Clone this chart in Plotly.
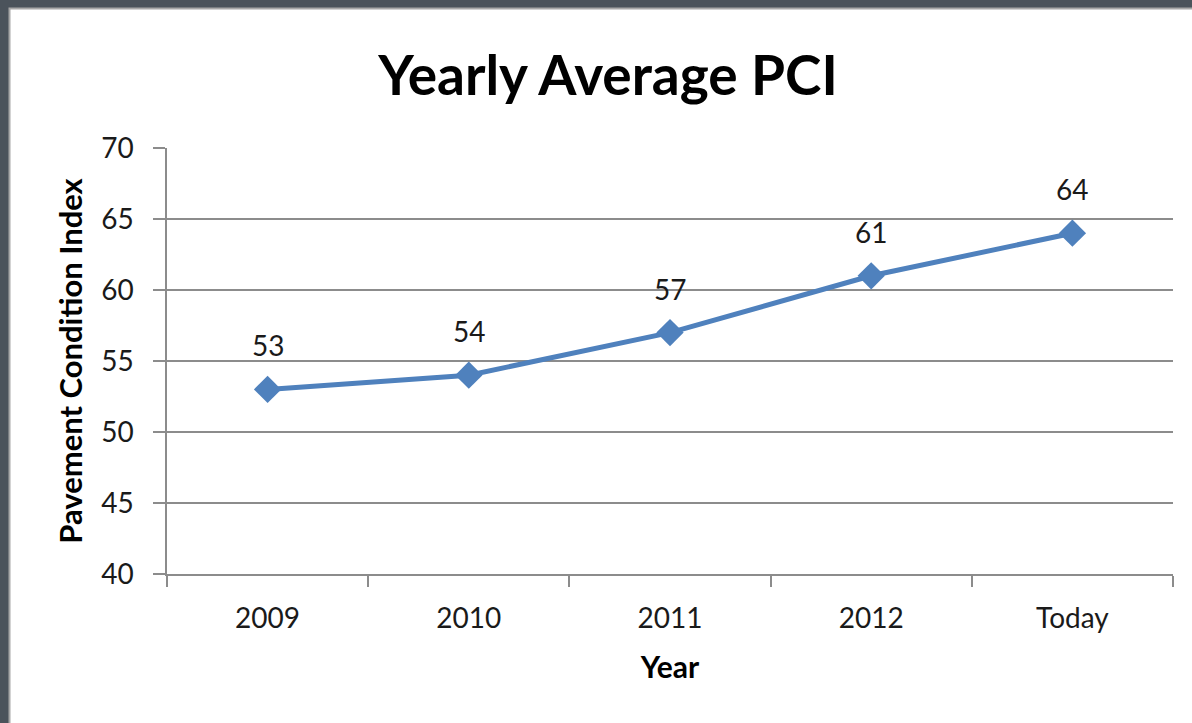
import plotly.graph_objects as go

categories = ["2009", "2010", "2011", "2012", "Today"]
pci_values = [53, 54, 57, 61, 64]
y_ticks = [40, 45, 50, 55, 60, 65, 70]

W, H = 1192, 723
L, R, T, B = 167, 19, 148, 149
pw, ph = W - L - R, H - T - B

def px_to_paper_x(px):
    return (px - L) / pw

def px_to_paper_y(py):
    return (H - B - py) / ph

FONT = "Lato"
BLUE = "#4F81BD"
GRID = "#8c8c8c"
TXT = "#1a1a1a"

fig = go.Figure()
fig.add_trace(go.Scatter(
    x=categories, y=pci_values, mode="lines+markers",
    line=dict(color=BLUE, width=5),
    marker=dict(symbol="diamond", size=21, color=BLUE),
    hoverinfo="x+y", showlegend=False,
))

for i, v in enumerate(pci_values):
    fig.add_annotation(x=i, y=v, text=str(v), showarrow=False,
                       yshift=44, font=dict(family=FONT, size=28, color=TXT))

fig.update_layout(
    width=W, height=H,
    margin=dict(l=L, r=R, t=T, b=B),
    paper_bgcolor="#4b535b",
    plot_bgcolor="white",
    title=dict(text="<b>Yearly Average PCI</b>", x=608 / W,
               xanchor="center", y=1 - 76 / H, yanchor="middle",
               font=dict(family=FONT, size=55, color="black")),
    shapes=[dict(type="rect", xref="paper", yref="paper", layer="below",
                 x0=px_to_paper_x(9.5), x1=px_to_paper_x(1210),
                 y0=px_to_paper_y(740), y1=px_to_paper_y(8.5),
                 fillcolor="white", line=dict(color="#a8a8a8", width=2))],
    xaxis=dict(
        type="category", range=[-0.5, 4.5], tickson="boundaries",
        showgrid=False, showline=True, linecolor=GRID, linewidth=1.5,
        ticks="outside", ticklen=11, tickcolor=GRID, tickwidth=1.5,
        ticklabelstandoff=19,
        tickfont=dict(family=FONT, size=28, color=TXT),
        title=dict(text="<b>Year</b>", font=dict(family=FONT, size=30, color="black"), standoff=24),
    ),
    yaxis=dict(
        range=[40, 70], tickvals=y_ticks,
        showgrid=True, gridcolor=GRID, gridwidth=1.5,
        showline=True, linecolor=GRID, linewidth=1.5,
        ticks="outside", ticklen=12, tickcolor=GRID, tickwidth=1.5,
        ticklabelstandoff=14,
        tickfont=dict(family=FONT, size=28, color=TXT),
        zeroline=False,
        title=dict(text="<b>Pavement Condition Index</b>", font=dict(family=FONT, size=31, color="black"), standoff=9),
    ),
)

fig.write_html("out.html", config={"displayModeBar": False},
               post_script="document.body.style.margin='0';document.body.style.overflow='hidden';")
